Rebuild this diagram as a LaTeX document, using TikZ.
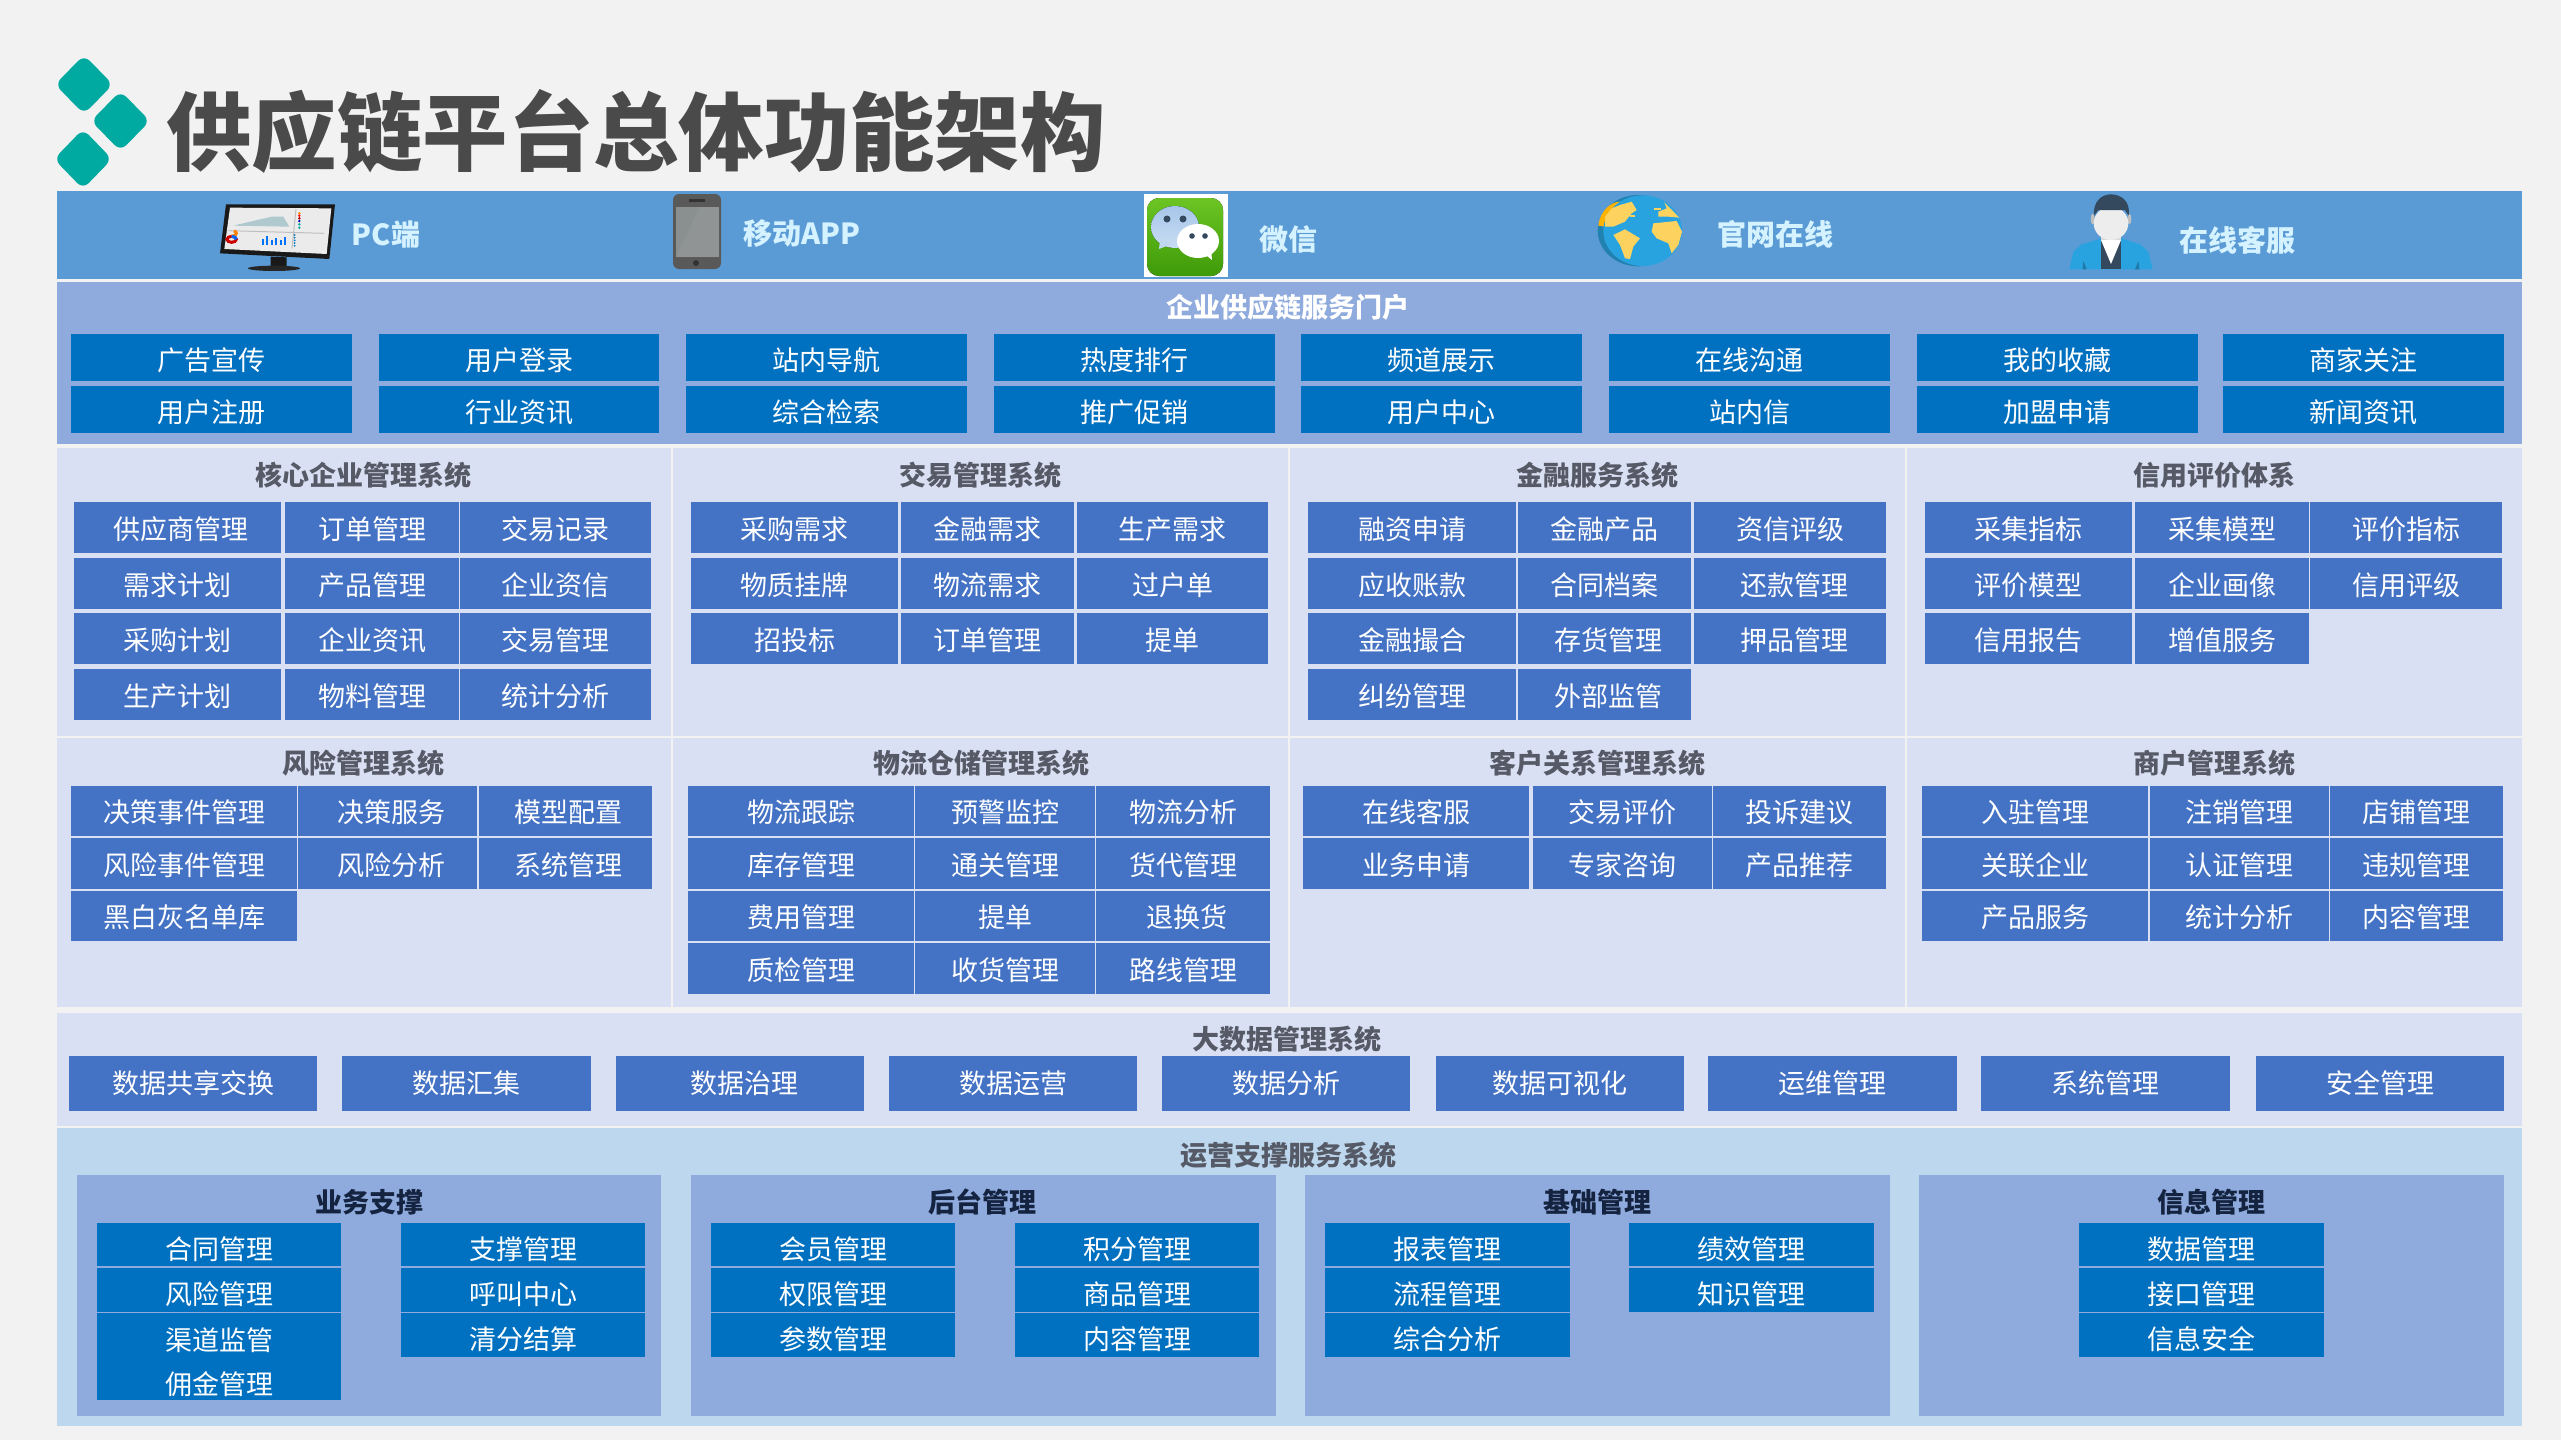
\documentclass[tikz,border=0pt]{standalone}
\usepackage{fontspec}
\setmainfont{Noto Sans CJK SC}
\usetikzlibrary{positioning}
\definecolor{pagebg}{HTML}{F2F2F2}
\definecolor{topbar}{HTML}{5B9BD5}
\definecolor{portalbg}{HTML}{8FAADC}
\definecolor{panelbg}{HTML}{DAE0F3}
\definecolor{supportbg}{HTML}{BDD7EE}
\definecolor{cellblue}{HTML}{4472C4}
\definecolor{portalblue}{HTML}{0070C0}
\definecolor{teal}{HTML}{00AAA0}
\definecolor{titlegray}{HTML}{4A4A4A}
\definecolor{headgray}{HTML}{555A66}
\definecolor{headnavy}{HTML}{14233F}
\definecolor{toptext}{HTML}{D4F2FF}
\definecolor{globeblue}{HTML}{29A3DF}
\definecolor{landyellow}{HTML}{FDD25F}
\definecolor{slate}{HTML}{34495E}
\definecolor{wechattop}{HTML}{6CC524}
\definecolor{wechatlow}{HTML}{3E9A08}
\definecolor{bubble}{HTML}{A6C6EA}
\definecolor{phonescreen}{HTML}{8A9090}
\tikzset{
cellbox/.style={fill=cellblue, text=white, inner sep=0pt, align=center, text depth=2pt, text height=13.7pt, font=\fontsize{13.5}{22}\selectfont},
portalbox/.style={cellbox, fill=portalblue, text height=15.3pt},
datacell/.style={cellbox, text height=12.4pt},
supportbox/.style={portalbox, text height=16.9pt},
panelhead/.style={text=headgray, font=\fontsize{13.5}{16}\selectfont\bfseries, inner sep=0pt},
subhead/.style={panelhead, text=headnavy},
toplabel/.style={text=toptext, font=\fontsize{14.5}{18}\selectfont\bfseries, inner sep=0pt}
}
\newcommand{\mkcell}[7]{\node[#1, minimum width={(#4-#2)*0.5pt}, minimum height={(#5-#3)*0.5pt}] (#6) at ({(#2+#4)/2},{(#3+#5)/2}) {#7};}
\newcommand{\mkpanel}[5]{\fill[#1] (#2,#3) rectangle (#4,#5);}
\newcommand{\nudge}[2]{\hspace*{#1}#2}
\begin{document}
\begin{tikzpicture}[x=0.5pt, y=-0.5pt]
\useasboundingbox (0,0) rectangle (2561,1440);
\fill[pagebg] (0,0) rectangle (2561,1440);

\fill[teal, rounded corners=4pt] (84,55) -- (113,84.5) -- (84,114) -- (55,84.5) -- cycle;
\fill[teal, rounded corners=4pt] (120.5,91) -- (150,121) -- (120.5,151) -- (91,121) -- cycle;
\fill[teal, rounded corners=4pt] (83,129) -- (112,159) -- (83,189) -- (54,159) -- cycle;
\node[text=titlegray, anchor=west, inner sep=0pt, font=\fontsize{42.7}{50}\selectfont\bfseries] (main_title) at (166,131) {供应链平台总体功能架构};

\mkpanel{topbar}{57}{191}{2522}{279}
\mkpanel{portalbg}{57}{282}{2522}{444}
\mkpanel{panelbg}{57}{448}{671}{736}
\mkpanel{panelbg}{673}{448}{1288}{736}
\mkpanel{panelbg}{1290}{448}{1905}{736}
\mkpanel{panelbg}{1907}{448}{2522}{736}
\mkpanel{panelbg}{57}{738}{671}{1007}
\mkpanel{panelbg}{673}{738}{1288}{1007}
\mkpanel{panelbg}{1290}{738}{1905}{1007}
\mkpanel{panelbg}{1907}{738}{2522}{1007}
\mkpanel{panelbg}{57}{1013}{2522}{1126}
\mkpanel{supportbg}{57}{1128}{2522}{1426}
\mkpanel{portalbg}{77}{1175}{661}{1416}
\mkpanel{portalbg}{691}{1175}{1276}{1416}
\mkpanel{portalbg}{1305}{1175}{1890}{1416}
\mkpanel{portalbg}{1919}{1175}{2504}{1416}

\begin{scope}[shift={(200,185)}, scale=1/3]
\fill[black!90] (78,58) -- (405,58) -- (388,222) -- (60,205) -- cycle;
\fill[black!90] (212,215) -- (260,217) -- (260,245) -- (212,243) -- cycle;
\fill[black!85] (222,250) ellipse (78 and 8);
\fill[black!8] (90,68) -- (394,70) -- (380,207) -- (73,192) -- cycle;
\fill[blue!20!cyan!25!gray!50] (100,122) -- (150,110) -- (215,95) -- (250,95) -- (268,125) -- cycle;
\draw[gray!50, line width=0.5pt] (288,72) -- (276,190) (85,137) -- (372,145);
\foreach \y/\c in {85/orange, 92/red, 100/red!70!black, 108/blue!70!black, 118/teal, 128/teal}
\fill[\c] (298,\y) circle (4);
\draw[red!80!black, line width=1.5pt] (95,163) ellipse (14 and 9);
\draw[orange, line width=1.5pt] (95,154) arc (90:-60:14 and 9);
\draw[blue!60!cyan, line width=1.5pt] (109,163) arc (0:-90:14 and 9);
\foreach \x/\h in {185/18, 198/28, 212/14, 226/22, 240/16, 252/24}
\fill[blue!55!cyan] (\x,180) rectangle (\x+6,180-\h);
\foreach \y in {150,158,166,174,182}
\fill[teal!70!blue] (284,\y) circle (3);
\end{scope}

\fill[black!65, rounded corners=3pt] (673,194) rectangle (721,269);
\fill[phonescreen] (676,207) rectangle (719,257);
\fill[black!40, opacity=0.45] (676,257) -- (700,207) -- (719,207) -- (719,257) -- cycle;
\fill[black!80] (689,199) rectangle (705,202);
\fill[black!80] (696,263) circle (3);

\fill[white] (1144,194) rectangle (1228,277);
\fill[top color=wechattop, bottom color=wechatlow, rounded corners=6pt] (1147,198) rectangle (1223,276);
\fill[top color=bubble, bottom color=bubble!60!white] (1175,227) ellipse (24 and 21);
\fill[bubble!70!white] (1160,240) -- (1159,249) -- (1172,244) -- cycle;
\fill[slate] (1167,219) circle (3.5);
\fill[slate] (1183,219) circle (3.5);
\fill[white] (1198,241) ellipse (21 and 17);
\fill[white] (1202,252) -- (1212,260) -- (1211,248) -- cycle;
\fill[slate] (1192,236) circle (2.8);
\fill[slate] (1205,236) circle (2.8);

\begin{scope}[shift={(1570,185)}, scale=1/3]
\fill[globeblue!80!black] (205,137) ellipse (122 and 107);
\fill[orange!60!yellow] (85,122) .. controls (90,75) and (125,50) .. (150,50) -- (105,125) -- cycle;
\fill[globeblue] (218,137) ellipse (118 and 106);
\fill[landyellow] (150,60) -- (185,50) -- (200,75) -- (185,85) -- (165,110) -- (130,125) -- (105,125) -- (105,95) -- (125,70) -- cycle;
\fill[landyellow] (130,150) -- (165,133) -- (210,160) -- (190,185) -- (180,222) -- (165,220) -- (150,180) -- cycle;
\fill[landyellow] (250,115) -- (320,108) -- (336,140) -- (325,180) -- (305,205) -- (295,175) -- (260,160) -- (245,140) -- cycle;
\fill[landyellow] (283,52) -- (328,98) -- (295,95) -- (265,95) -- (265,80) -- (290,70) -- cycle;
\fill[landyellow] (252,68) rectangle (272,76);
\fill[landyellow] (180,90) rectangle (196,97);
\end{scope}

\begin{scope}[shift={(2040,185)}, scale=1/3]
\fill[globeblue] (88,253) -- (100,200) -- (125,178) -- (185,160) -- (245,160) -- (300,178) -- (325,200) -- (338,253) -- cycle;
\fill[slate] (183,165) rectangle (243,253);
\fill[black!15] (183,140) -- (243,140) -- (243,165) -- (183,165) -- cycle;
\fill[white] (183,165) -- (243,165) -- (213,237) -- cycle;
\fill[globeblue!75!black] (130,228) -- (140,253) -- (128,253) -- cycle;
\fill[globeblue!75!black] (295,228) -- (298,253) -- (285,253) -- cycle;
\fill[black!25] (158,102) ellipse (6 and 16);
\fill[black!25] (268,102) ellipse (6 and 16);
\fill[black!7] (213,115) ellipse (52 and 50);
\fill[slate] (162,92) .. controls (158,50) and (185,28) .. (212,28) .. controls (245,28) and (272,50) .. (266,92) -- (255,75) -- (175,75) -- cycle;
\end{scope}

\node[toplabel] (pc_label) at (386,235) {PC端};
\node[toplabel] (app_label) at (802,234) {移动APP};
\node[toplabel] (wechat_label) at (1288,239) {微信};
\node[toplabel] (web_label) at (1775,234) {官网在线};
\node[toplabel] (service_label) at (2237,240) {在线客服};

\node[panelhead, text=white] (portal_head) at (1288,307) {企业供应链服务门户};
\foreach \n/\xa/\xb/\ta/\tb in {1/71/352/广告宣传/用户注册, 2/379/659/用户登录/行业资讯, 3/686/967/站内导航/综合检索, 4/994/1275/热度排行/推广促销, 5/1301/1582/频道展示/用户中心, 6/1609/1890/在线沟通/站内信, 7/1917/2198/我的收藏/加盟申请, 8/2223/2504/商家关注/新闻资讯}{
\mkcell{portalbox}{\xa}{334}{\xb}{381}{portal_\n_a}{\ta}
\mkcell{portalbox}{\xa}{386}{\xb}{433}{portal_\n_b}{\tb}
}

\node[panelhead] (core_head) at (363,475) {核心企业管理系统};
\node[panelhead] (trade_head) at (980,475) {交易管理系统};
\node[panelhead] (finance_head) at (1597,475) {金融服务系统};
\node[panelhead] (credit_head) at (2214,475) {信用评价体系};
\node[panelhead] (risk_head) at (363,763) {风险管理系统};
\node[panelhead] (logistics_head) at (981,763) {物流仓储管理系统};
\node[panelhead] (customer_head) at (1597,763) {客户关系管理系统};
\node[panelhead] (merchant_head) at (2214,763) {商户管理系统};

\foreach \n/\ya/\yb/\ta/\tb/\tc in {1/502/553/\nudge{3.5pt}{供应商管理}/订单管理/交易记录, 2/558/609/需求计划/产品管理/企业资信, 3/613/664/采购计划/企业资讯/交易管理, 4/669/720/生产计划/物料管理/统计分析}{
\mkcell{cellbox}{74}{\ya}{281}{\yb}{core_\n_a}{\ta}
\mkcell{cellbox}{285}{\ya}{459}{\yb}{core_\n_b}{\tb}
\mkcell{cellbox}{460}{\ya}{651}{\yb}{core_\n_c}{\tc}
}
\foreach \n/\ya/\yb/\ta/\tb/\tc in {1/502/553/采购需求/金融需求/生产需求, 2/558/609/物质挂牌/物流需求/过户单, 3/613/664/招投标/订单管理/提单}{
\mkcell{cellbox}{691}{\ya}{898}{\yb}{trade_\n_a}{\ta}
\mkcell{cellbox}{901}{\ya}{1074}{\yb}{trade_\n_b}{\tb}
\mkcell{cellbox}{1077}{\ya}{1268}{\yb}{trade_\n_c}{\tc}
}
\foreach \n/\ya/\yb/\ta/\tb/\tc in {1/502/553/融资申请/金融产品/资信评级, 2/558/609/应收账款/合同档案/\nudge{4pt}{还款管理}, 3/613/664/金融撮合/\nudge{4pt}{存货管理}/\nudge{4pt}{押品管理}}{
\mkcell{cellbox}{1308}{\ya}{1516}{\yb}{finance_\n_a}{\ta}
\mkcell{cellbox}{1518}{\ya}{1691}{\yb}{finance_\n_b}{\tb}
\mkcell{cellbox}{1694}{\ya}{1886}{\yb}{finance_\n_c}{\tc}
}
\mkcell{cellbox}{1308}{669}{1516}{720}{finance_4_a}{纠纷管理}
\mkcell{cellbox}{1518}{669}{1691}{720}{finance_4_b}{\nudge{4pt}{外部监管}}
\foreach \n/\ya/\yb/\ta/\tb/\tc in {1/502/553/采集指标/采集模型/评价指标, 2/558/609/评价模型/企业画像/信用评级}{
\mkcell{cellbox}{1925}{\ya}{2132}{\yb}{credit_\n_a}{\ta}
\mkcell{cellbox}{2135}{\ya}{2309}{\yb}{credit_\n_b}{\tb}
\mkcell{cellbox}{2310}{\ya}{2502}{\yb}{credit_\n_c}{\tc}
}
\mkcell{cellbox}{1925}{613}{2132}{664}{credit_3_a}{信用报告}
\mkcell{cellbox}{2135}{613}{2309}{664}{credit_3_b}{增值服务}

\foreach \n/\ya/\yb/\ta/\tb/\tc in {1/786/836/决策事件管理/决策服务/模型配置, 2/838/889/风险事件管理/风险分析/系统管理}{
\mkcell{cellbox}{71}{\ya}{297}{\yb}{risk_\n_a}{\ta}
\mkcell{cellbox}{298}{\ya}{477}{\yb}{risk_\n_b}{\nudge{4pt}{\tb}}
\mkcell{cellbox}{479}{\ya}{652}{\yb}{risk_\n_c}{\nudge{3.3pt}{\tc}}
}
\mkcell{cellbox}{71}{891}{297}{941}{risk_3_a}{黑白灰名单库}
\foreach \n/\ya/\yb/\ta/\tb/\tc in {1/786/836/物流跟踪/预警监控/物流分析, 2/838/889/库存管理/通关管理/货代管理, 3/891/941/费用管理/提单/\nudge{4pt}{退换货}, 4/943/994/质检管理/收货管理/路线管理}{
\mkcell{cellbox}{688}{\ya}{914}{\yb}{logistics_\n_a}{\ta}
\mkcell{cellbox}{915}{\ya}{1095}{\yb}{logistics_\n_b}{\tb}
\mkcell{cellbox}{1096}{\ya}{1270}{\yb}{logistics_\n_c}{\tc}
}
\foreach \n/\ya/\yb/\ta/\tb/\tc in {1/786/836/在线客服/交易评价/投诉建议, 2/838/889/业务申请/专家咨询/产品推荐}{
\mkcell{cellbox}{1303}{\ya}{1529}{\yb}{customer_\n_a}{\ta}
\mkcell{cellbox}{1533}{\ya}{1712}{\yb}{customer_\n_b}{\tb}
\mkcell{cellbox}{1713}{\ya}{1886}{\yb}{customer_\n_c}{\tc}
}
\foreach \n/\ya/\yb/\ta/\tb/\tc in {1/786/836/入驻管理/注销管理/店铺管理, 2/838/889/关联企业/认证管理/违规管理, 3/891/941/产品服务/统计分析/内容管理}{
\mkcell{cellbox}{1922}{\ya}{2148}{\yb}{merchant_\n_a}{\ta}
\mkcell{cellbox}{2150}{\ya}{2329}{\yb}{merchant_\n_b}{\tb}
\mkcell{cellbox}{2330}{\ya}{2503}{\yb}{merchant_\n_c}{\tc}
}

\node[panelhead] (data_head) at (1287,1039) {大数据管理系统};
\foreach \n/\xa/\xb/\t in {1/69/317/数据共享交换, 2/342/591/数据汇集, 3/616/864/\nudge{4pt}{数据治理}, 4/889/1137/数据运营, 5/1162/1410/数据分析, 6/1436/1684/数据可视化, 7/1708/1957/运维管理, 8/1981/2230/系统管理, 9/2256/2504/安全管理}{
\mkcell{datacell}{\xa}{1056}{\xb}{1111}{data_\n}{\t}
}

\node[panelhead] (support_head) at (1288,1155) {运营支撑服务系统};
\node[subhead] (business_head) at (369,1202) {业务支撑};
\node[subhead] (backend_head) at (982,1202) {后台管理};
\node[subhead] (base_head) at (1597,1202) {基础管理};
\node[subhead] (info_head) at (2211,1202) {信息管理};

\mkcell{supportbox}{97}{1223}{341}{1266}{business_1}{合同管理}
\mkcell{supportbox}{97}{1268}{341}{1312}{business_2}{风险管理}
\mkcell{supportbox, text height=40.4pt}{97}{1313}{341}{1400}{business_3}{渠道监管\\佣金管理}
\mkcell{supportbox}{401}{1223}{645}{1266}{business_4}{支撑管理}
\mkcell{supportbox}{401}{1268}{645}{1312}{business_5}{呼叫中心}
\mkcell{supportbox}{401}{1313}{645}{1357}{business_6}{清分结算}
\mkcell{supportbox}{711}{1223}{955}{1266}{backend_1}{会员管理}
\mkcell{supportbox}{711}{1268}{955}{1312}{backend_2}{权限管理}
\mkcell{supportbox}{711}{1313}{955}{1357}{backend_3}{参数管理}
\mkcell{supportbox}{1015}{1223}{1259}{1266}{backend_4}{积分管理}
\mkcell{supportbox}{1015}{1268}{1259}{1312}{backend_5}{商品管理}
\mkcell{supportbox}{1015}{1313}{1259}{1357}{backend_6}{内容管理}
\mkcell{supportbox}{1325}{1223}{1570}{1266}{base_1}{报表管理}
\mkcell{supportbox}{1325}{1268}{1570}{1312}{base_2}{流程管理}
\mkcell{supportbox}{1325}{1313}{1570}{1357}{base_3}{综合分析}
\mkcell{supportbox}{1629}{1223}{1874}{1266}{base_4}{绩效管理}
\mkcell{supportbox}{1629}{1268}{1874}{1312}{base_5}{知识管理}
\mkcell{supportbox}{2079}{1223}{2324}{1266}{info_1}{数据管理}
\mkcell{supportbox}{2079}{1268}{2324}{1312}{info_2}{接口管理}
\mkcell{supportbox}{2079}{1313}{2324}{1357}{info_3}{信息安全}
\end{tikzpicture}
\end{document}
